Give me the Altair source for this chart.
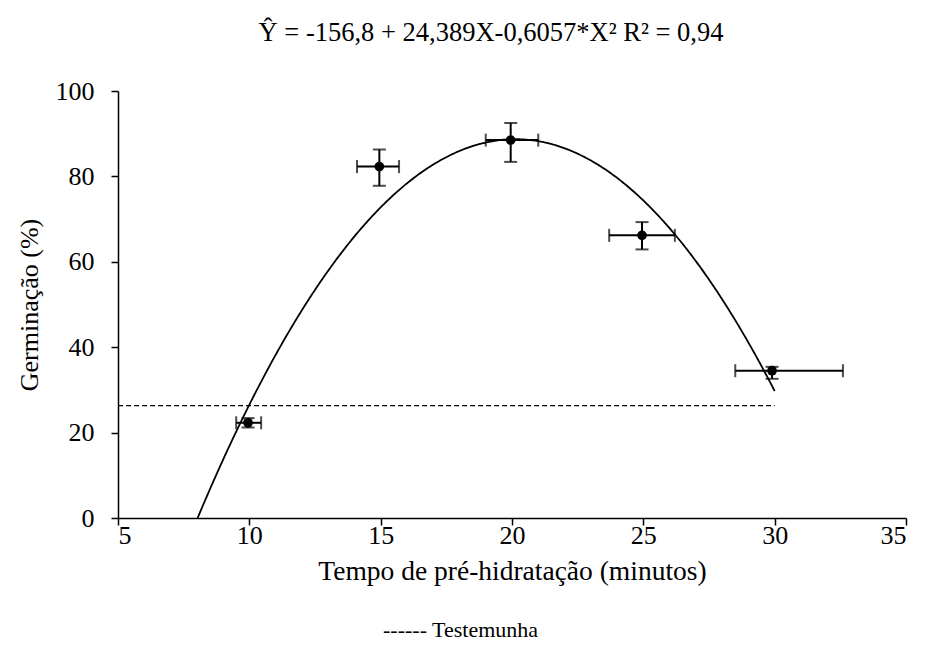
import altair as alt
import pandas as pd

# Observed means (x = time in minutes, y = germination %)
TIME = [9.95, 14.95, 19.95, 24.95, 29.9]
GERM = [22.3, 82.3, 88.5, 66.2, 34.5]
# Error bar extents
X_LO = [9.5, 14.1, 19.0, 23.7, 28.5]
X_HI = [10.45, 15.7, 21.0, 26.2, 32.6]
Y_LO = [21.2, 77.8, 83.4, 62.9, 32.6]
Y_HI = [23.4, 86.3, 92.5, 69.3, 35.4]

# Fitted model: Y = b0 + b1*X + b2*X^2
COEF = [-156.8, 24.389, -0.6057]
FIT_RANGE = [8.031, 30.0]

# Control (Testemunha) level
CONTROL_Y = 26.3
CONTROL_RANGE = [5, 30]

X_TICKS = [5, 10, 15, 20, 25, 30, 35]
Y_TICKS = [0, 20, 40, 60, 80, 100]

FONT = "Liberation Serif"

pts = pd.DataFrame({"x": TIME, "y": GERM, "xlo": X_LO, "xhi": X_HI,
                    "ylo": Y_LO, "yhi": Y_HI})
ctrl = pd.DataFrame({"x": [CONTROL_RANGE[0]], "x2": [CONTROL_RANGE[1]],
                     "y": [CONTROL_Y]})
legend_df = pd.DataFrame({"t": ["------ Testemunha"]})

xs = alt.Scale(domain=[5, 35], nice=False, zero=False)
ys = alt.Scale(domain=[0, 100], nice=False)

x_axis = alt.Axis(values=X_TICKS, title="Tempo de pré-hidratação (minutos)",
                  titlePadding=9, labelPadding=-3, grid=False,
                  labelFontSize=26, titleFontSize=27.5)
y_axis = alt.Axis(values=Y_TICKS, title="Germinação (%)", titlePadding=13,
                  labelPadding=17, grid=False,
                  labelFontSize=26, titleFontSize=26)

base = alt.Chart(pts)

curve = alt.Chart(alt.sequence(0, 1.0001, 0.0025, as_="t")).transform_calculate(
    x=f"{FIT_RANGE[0]} + datum.t * ({FIT_RANGE[1]} - {FIT_RANGE[0]})"
).transform_calculate(
    y=f"{COEF[0]} + {COEF[1]} * datum.x + ({COEF[2]}) * datum.x * datum.x"
).mark_line(color="black", strokeWidth=1.8).encode(
    x=alt.X("x:Q", scale=xs, axis=x_axis),
    y=alt.Y("y:Q", scale=ys, axis=y_axis),
)

control = alt.Chart(ctrl).mark_rule(color="black", strokeWidth=1.3,
                                    strokeDash=[5, 3]).encode(
    x="x:Q", x2="x2:Q", y="y:Q")

vbar = base.mark_rule(color="black", strokeWidth=2).encode(
    x="x:Q", y="ylo:Q", y2="yhi:Q")
hbar = base.mark_rule(color="black", strokeWidth=2).encode(
    y="y:Q", x="xlo:Q", x2="xhi:Q")
vcap_lo = base.mark_tick(color="black", orient="horizontal", size=13,
                         thickness=2).encode(x="x:Q", y="ylo:Q")
vcap_hi = base.mark_tick(color="black", orient="horizontal", size=13,
                         thickness=2).encode(x="x:Q", y="yhi:Q")
hcap_lo = base.mark_tick(color="black", orient="vertical", size=13,
                         thickness=2).encode(x="xlo:Q", y="y:Q")
hcap_hi = base.mark_tick(color="black", orient="vertical", size=13,
                         thickness=2).encode(x="xhi:Q", y="y:Q")
dots = base.mark_circle(color="black", size=95, opacity=1).encode(
    x="x:Q", y="y:Q")

legend = alt.Chart(legend_df).mark_text(
    font=FONT, fontSize=22, align="left", baseline="middle", color="black"
).encode(x=alt.value(265), y=alt.value(539), text="t:N")

chart = alt.layer(
    curve, control, vbar, hbar, vcap_lo, vcap_hi, hcap_lo, hcap_hi, dots, legend
).properties(
    width=788, height=427,
    autosize=alt.AutoSizeParams(type="none"),
    padding={"left": 118, "top": 91, "right": 19, "bottom": 135},
    background="white",
    title=alt.TitleParams(
        text="Ŷ = -156,8 + 24,389X-0,6057*X² R² = 0,94",
        font=FONT, fontSize=26.5, fontWeight="normal", color="black",
        anchor="middle", frame="group", dx=-21, dy=3, offset=8,
        baseline="bottom",
    ),
).configure_view(stroke=None).configure_axis(
    grid=False, domainColor="black", domainWidth=1.5, tickColor="black",
    tickWidth=1.5, tickSize=7, labelFont=FONT, titleFont=FONT,
    labelColor="black", titleColor="black", titleFontWeight="normal",
)

chart.save("out.html", embed_options={"renderer": "svg", "actions": False})
